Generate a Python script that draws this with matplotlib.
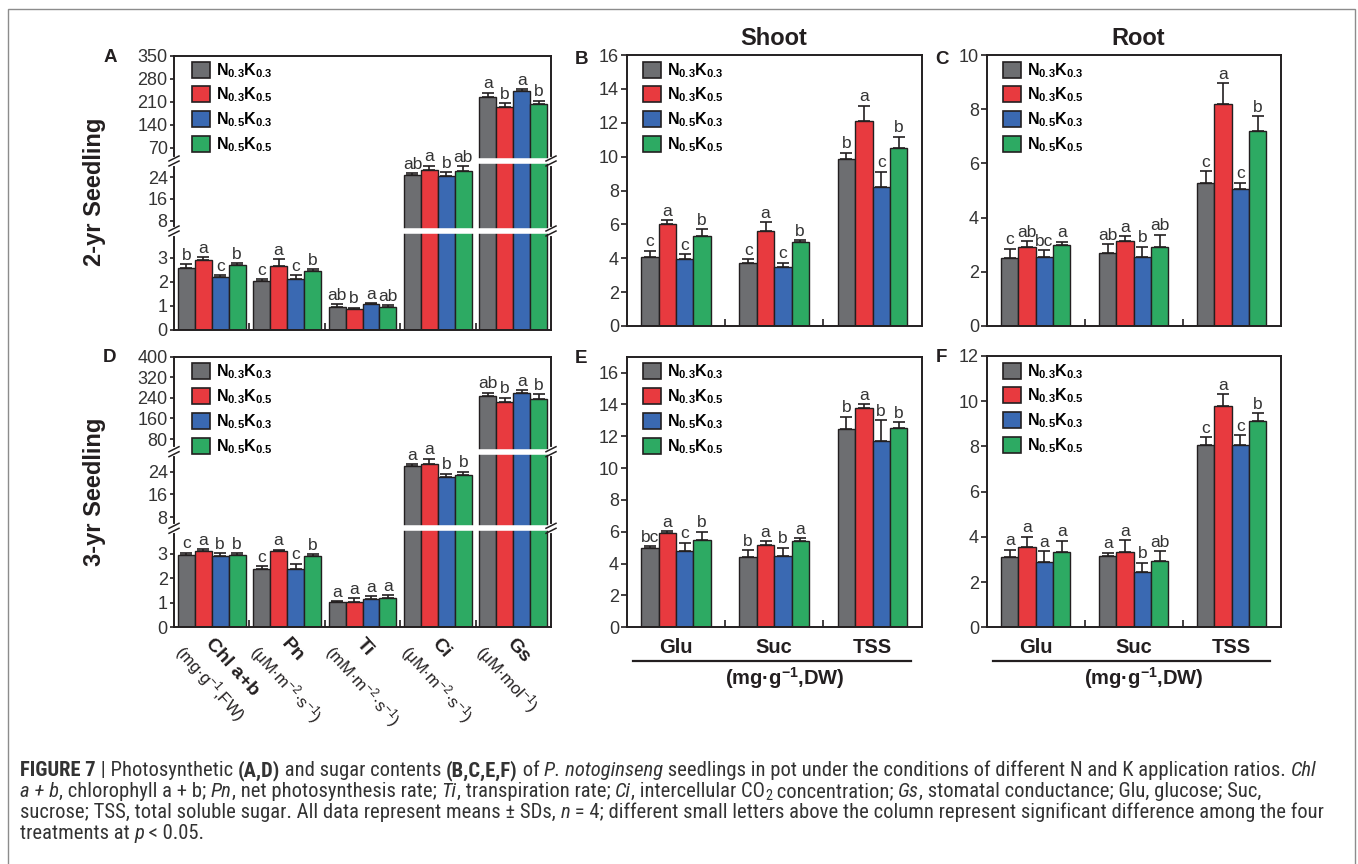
import numpy as np
import matplotlib.pyplot as plt
from matplotlib import font_manager
from matplotlib.patches import Patch, Rectangle

plt.rcParams['font.family'] = ['Liberation Sans', 'DejaVu Sans']
plt.rcParams['mathtext.fontset'] = 'custom'
plt.rcParams['mathtext.rm'] = 'Liberation Sans'
plt.rcParams['mathtext.bf'] = 'Liberation Sans:bold'
plt.rcParams['mathtext.it'] = 'Liberation Sans:italic'

INK = '#231f20'

treatments = [r'$\mathbf{N_{0.3}K_{0.3}}$', r'$\mathbf{N_{0.3}K_{0.5}}$',
              r'$\mathbf{N_{0.5}K_{0.3}}$', r'$\mathbf{N_{0.5}K_{0.5}}$']
colors = ['#6d6e71', '#e83a3f', '#3a69b2', '#2daa63']

photo_params = ['Chl a+b', 'Pn', 'Ti', 'Ci', 'Gs']
photo_units = ['(mg·g$^{-1}$,FW)', '(μM·m$^{-2}$·s$^{-1}$)', '(mM·m$^{-2}$·s$^{-1}$)',
               '(μM·m$^{-2}$·s$^{-1}$)', '(μM·mol$^{-1}$)']
sugars = ['Glu', 'Suc', 'TSS']

# rows = parameter / sugar, columns = treatment
a_mean = [[2.57, 2.93, 2.21, 2.71], [2.04, 2.68, 2.13, 2.46], [0.97, 0.89, 1.07, 0.96],
          [24.9, 26.8, 24.4, 26.3], [224, 196, 242, 203]]
a_sd = [[0.17, 0.10, 0.07, 0.08], [0.07, 0.26, 0.16, 0.08], [0.10, 0.04, 0.04, 0.08],
        [0.7, 1.4, 1.4, 1.8], [14, 10, 7, 11]]
a_let = [['b', 'a', 'c', 'b'], ['c', 'a', 'c', 'b'], ['ab', 'b', 'a', 'ab'],
         ['ab', 'a', 'b', 'ab'], ['a', 'b', 'a', 'b']]

d_mean = [[2.96, 3.11, 2.92, 2.95], [2.40, 3.11, 2.40, 2.91], [1.02, 1.05, 1.16, 1.19],
          [25.8, 26.7, 22.0, 22.7], [247, 225, 259, 235]]
d_sd = [[0.10, 0.09, 0.10, 0.08], [0.11, 0.06, 0.21, 0.09], [0.06, 0.14, 0.12, 0.12],
        [0.9, 1.8, 1.2, 1.3], [13, 16, 10, 20]]
d_let = [['c', 'a', 'b', 'b'], ['c', 'a', 'c', 'b'], ['a', 'a', 'a', 'a'],
         ['a', 'a', 'b', 'b'], ['ab', 'b', 'a', 'b']]

b_mean = [[4.09, 6.04, 3.96, 5.33], [3.70, 5.61, 3.50, 4.94], [9.88, 12.09, 8.19, 10.49]]
b_sd = [[0.36, 0.20, 0.29, 0.38], [0.24, 0.51, 0.24, 0.12], [0.36, 0.92, 0.92, 0.69]]
b_let = [['c', 'a', 'c', 'b'], ['c', 'a', 'c', 'b'], ['b', 'a', 'c', 'b']]

c_mean = [[2.50, 2.90, 2.53, 2.98], [2.69, 3.15, 2.55, 2.93], [5.26, 8.18, 5.04, 7.21]]
c_sd = [[0.35, 0.24, 0.27, 0.13], [0.32, 0.17, 0.37, 0.44], [0.45, 0.79, 0.25, 0.53]]
c_let = [['c', 'ab', 'bc', 'a'], ['ab', 'a', 'b', 'ab'], ['c', 'a', 'c', 'b']]

e_mean = [[4.96, 5.90, 4.81, 5.48], [4.43, 5.15, 4.47, 5.40], [12.46, 13.80, 11.72, 12.52]]
e_sd = [[0.12, 0.13, 0.51, 0.53], [0.40, 0.27, 0.53, 0.19], [0.78, 0.21, 1.28, 0.38]]
e_let = [['bc', 'a', 'c', 'b'], ['b', 'a', 'b', 'a'], ['b', 'a', 'b', 'b']]

f_mean = [[3.10, 3.57, 2.90, 3.32], [3.15, 3.35, 2.45, 2.93], [8.05, 9.80, 8.05, 9.14]]
f_sd = [[0.34, 0.43, 0.46, 0.51], [0.15, 0.50, 0.40, 0.43], [0.35, 0.52, 0.44, 0.34]]
f_let = [['a', 'a', 'a', 'a'], ['a', 'a', 'b', 'ab'], ['c', 'a', 'c', 'b']]

# broken y axes of A and D: data value -> pixel height above the x axis
a_brk_val, a_brk_px = [0, 4.125, 30, 350], [0, 99, 169, 274]
a_ticks = [0, 1, 2, 3, 8, 16, 24, 70, 140, 210, 280, 350]
d_brk_val, d_brk_px = [0, 4.05, 31, 400], [0, 99, 175.6, 270.6]
d_ticks = [0, 1, 2, 3, 8, 16, 24, 80, 160, 240, 320, 400]

W, H = 1358, 864
fig = plt.figure(figsize=(W / 100, H / 100), dpi=100)


def add_ax(left, top, right, bottom):
    ax = fig.add_axes([left / W, 1 - bottom / H, (right - left) / W, (bottom - top) / H])
    for s in ax.spines.values():
        s.set_linewidth(1.4)
        s.set_color(INK)
    ax.tick_params(axis='y', direction='out', length=3, width=1.2, pad=1.5,
                   labelsize=13, colors=INK, labelcolor='#333333')
    ax.tick_params(axis='x', which='both', direction='in', length=5, width=1.2, colors=INK)
    return ax


def draw_bars(ax, means, sds, letters, width):
    means, sds = np.array(means), np.array(sds)
    ng = means.shape[0]
    centers = np.arange(ng)
    for j in range(4):
        x = centers + (j - 1.5) * width
        ax.bar(x, means[:, j], width, color=colors[j], edgecolor=INK, linewidth=1.0, zorder=2)
        ax.errorbar(x, means[:, j], yerr=[np.zeros(ng), sds[:, j]], fmt='none',
                    ecolor=INK, elinewidth=1.2, capsize=4, capthick=1.2, zorder=3)
        for i in range(ng):
            ax.annotate(letters[i][j], (x[i], means[i, j] + sds[i, j]), xytext=(0, 1),
                        textcoords='offset points', ha='center', va='bottom',
                        fontsize=12.5, color='#333333', zorder=9)
    ax.set_xlim(-0.5, ng - 0.5)
    ax.set_xticks(np.arange(ng - 1) + 0.5)
    ax.set_xticklabels([])
    ax.legend(handles=[Patch(facecolor=c, edgecolor=INK, linewidth=1.2) for c in colors],
              labels=treatments, loc='upper left', frameon=False, fontsize=11.5,
              handlelength=1.15, handleheight=1.15, handletextpad=0.35, labelspacing=0.38,
              borderpad=0, borderaxespad=0)


def broken_axis(ax, bv, bp, ticks, width, tall_groups, ax_w, ax_h):
    fwd = lambda v: np.interp(v, bv, bp)
    inv = lambda p: np.interp(p, bp, bv)
    ax.set_yscale('function', functions=(fwd, inv))
    ax.set_ylim(0, bv[-1])
    ax.set_yticks(ticks)
    ax.set_yticklabels([str(t) for t in ticks])
    ax.yaxis.set_minor_locator(plt.NullLocator())
    for k in (1, 2):
        for g in tall_groups:
            ax.plot([g - 2.1 * width, g + 2.1 * width], [bv[k], bv[k]], color='white',
                    lw=4, solid_capstyle='butt', zorder=5)
        ya = bp[k] / bp[-1]
        dx, dy, gap = 5 / ax_w, 2.5 / ax_h, 2.5 / ax_h
        for xa in (0, 1):
            ax.plot([xa, xa], [ya - gap, ya + gap], color='white', lw=3,
                    transform=ax.transAxes, clip_on=False, zorder=6)
            for s in (-1, 1):
                ax.plot([xa - dx, xa + dx], [ya + s * gap - dy, ya + s * gap + dy], color=INK,
                        lw=1.1, transform=ax.transAxes, clip_on=False, zorder=7)


# panel A / D
axA = add_ax(174, 56, 551, 330)
draw_bars(axA, a_mean, a_sd, a_let, 0.225)
broken_axis(axA, a_brk_val, a_brk_px, a_ticks, 0.225, [3, 4], 377, 274)
axA.legend_.set_bbox_to_anchor((18 / 377, 1 - 5 / 274))

axD = add_ax(174, 356.7, 551, 627.3)
draw_bars(axD, d_mean, d_sd, d_let, 0.225)
broken_axis(axD, d_brk_val, d_brk_px, d_ticks, 0.225, [3, 4], 377, 270.6)
axD.legend_.set_bbox_to_anchor((18 / 377, 1 - 6 / 270.6))
for i, (p, u) in enumerate(zip(photo_params, photo_units)):
    axD.annotate(p, (i, 0), xycoords=('data', 'axes fraction'), xytext=(3, -8),
                 textcoords='offset pixels', rotation=-48, rotation_mode='anchor',
                 ha='left', va='top', fontsize=14, fontweight='bold', color=INK)
    axD.annotate(u, (i, 0), xycoords=('data', 'axes fraction'), xytext=(-25, -13),
                 textcoords='offset pixels', rotation=-48, rotation_mode='anchor',
                 ha='left', va='top', fontsize=12, color=INK)

# sugar panels
sugar_panels = [
    (626.7, 55, 921.7, 326, b_mean, b_sd, b_let, 16, 2, False),
    (986.7, 55, 1280.7, 326, c_mean, c_sd, c_let, 10, 2, False),
    (626.7, 356.7, 921.7, 627.3, e_mean, e_sd, e_let, 17, 2, True),
    (986.7, 356, 1280.7, 627.3, f_mean, f_sd, f_let, 12, 2, True),
]
for left, top, right, bottom, m, sd, let, ymax, step, labelled in sugar_panels:
    ax = add_ax(left, top, right, bottom)
    aw, ah = right - left, bottom - top
    draw_bars(ax, m, sd, let, 0.1765)
    ax.legend_.set_bbox_to_anchor((16 / aw, 1 - 6 / ah))
    ax.set_ylim(0, ymax)
    ax.set_yticks(np.arange(0, ymax + 0.01, step))
    ax.tick_params(axis='y', length=4, pad=1.5)
    if labelled:
        ax.set_xticks([0, 1, 2], minor=True)
        ax.set_xticklabels(sugars, minor=True, fontsize=14.5, fontweight='bold', color=INK)
        ax.tick_params(axis='x', which='minor', length=0, pad=8)
        ax.plot([0.022, 0.965], [-0.125, -0.125], color=INK, lw=1.6,
                transform=ax.transAxes, clip_on=False)
        ax.text(0.535, -0.187, r'(mg·g$^{\mathbf{-1}}$,DW)', transform=ax.transAxes,
                ha='center', va='center', fontsize=14.5, fontweight='bold', color=INK)

# titles and panel letters
fig.text(774 / W, 1 - 38.5 / H, 'Shoot', ha='center', va='center', fontsize=17, fontweight='bold', color=INK)
fig.text(1138.5 / W, 1 - 38.5 / H, 'Root', ha='center', va='center', fontsize=17, fontweight='bold', color=INK)
for lab, x, y in [('A', 110, 57), ('B', 581.5, 59), ('C', 941.5, 59),
                  ('D', 110, 358), ('E', 581.5, 358.5), ('F', 941.5, 358)]:
    fig.text(x / W, 1 - y / H, lab, ha='center', va='center', fontsize=13.5,
             fontweight='bold', color=INK)
fig.text(95 / W, 1 - 192 / H, '2-yr Seedling', rotation=90, ha='center', va='center',
         fontsize=17, fontweight='bold', color=INK)
fig.text(95 / W, 1 - 492 / H, '3-yr Seedling', rotation=90, ha='center', va='center',
         fontsize=17, fontweight='bold', color=INK)

# frame around the figure
fig.add_artist(Rectangle((8 / W, -0.02), 1347 / W, (H - 9) / H + 0.02, transform=fig.transFigure,
                         fill=False, edgecolor='#8c8c8c', linewidth=1.0))

# caption: look for a narrow face first
cap_prop = font_manager.FontProperties(family='Liberation Sans')
for fam, st in [('Liberation Sans Narrow', 'normal'), ('Liberation Sans', 'condensed'),
                ('Roboto Condensed', 'normal'), ('Roboto', 'condensed'),
                ('Open Sans Condensed', 'normal'), ('Open Sans', 'condensed'),
                ('DejaVu Sans', 'condensed')]:
    fp = font_manager.FontProperties(family=fam, stretch=st)
    try:
        path = font_manager.findfont(fp, fallback_to_default=False)
    except ValueError:
        continue
    if 'narrow' in path.lower() or 'condensed' in path.lower():
        cap_prop = fp
        break

caption = [
    [('FIGURE 7', 'b'), (' | Photosynthetic ', 'r'), ('(A,D)', 'b'), (' and sugar contents ', 'r'),
     ('(B,C,E,F)', 'b'), (' of ', 'r'), ('P. notoginseng', 'i'),
     (' seedlings in pot under the conditions of different N and K application ratios. ', 'r'),
     ('Chl', 'i')],
    [('a + b', 'i'), (', chlorophyll a + b; ', 'r'), ('Pn', 'i'), (', net photosynthesis rate; ', 'r'),
     ('Ti', 'i'), (', transpiration rate; ', 'r'), ('Ci', 'i'), (', intercellular CO', 'r'),
     ('2', 's'), (' concentration; ', 'r'), ('Gs', 'i'),
     (', stomatal conductance; Glu, glucose; Suc,', 'r')],
    [('sucrose; TSS, total soluble sugar. All data represent means ± SDs, ', 'r'), ('n', 'i'),
     (' = 4; different small letters above the column represent significant difference among the four', 'r')],
    [('treatments at ', 'r'), ('p', 'i'), (' < 0.05.', 'r')],
]
line_widths = [1322, 1258, 1293]
renderer = fig.canvas.get_renderer()


def style(kind, size):
    fp = cap_prop.copy()
    fp.set_size(size * (0.7 if kind == 's' else 1))
    if kind == 'b':
        fp.set_weight('bold')
    elif kind == 'i':
        fp.set_style('italic')
    return dict(fontproperties=fp, color='#333333')


def seg_width(s, kw):
    t1 = fig.text(0, 0, s + '|', **kw)
    t2 = fig.text(0, 0, '|', **kw)
    w = t1.get_window_extent(renderer).width - t2.get_window_extent(renderer).width
    t1.remove()
    t2.remove()
    return w


# largest size at which no caption line is longer than in the reference
base = 10.0
cap_size = min(base * target / sum(seg_width(s, style(k, base)) for s, k in row)
               for row, target in zip(caption, line_widths))
for row, baseline in zip(caption, [776, 797, 818, 839]):
    x = 20
    for s, k in row:
        kw = style(k, cap_size)
        y = baseline + (3 if k == 's' else 0)
        fig.text(x / W, 1 - y / H, s, va='baseline', ha='left', **kw)
        x += seg_width(s, kw)

fig.savefig('out.png', dpi=100)
